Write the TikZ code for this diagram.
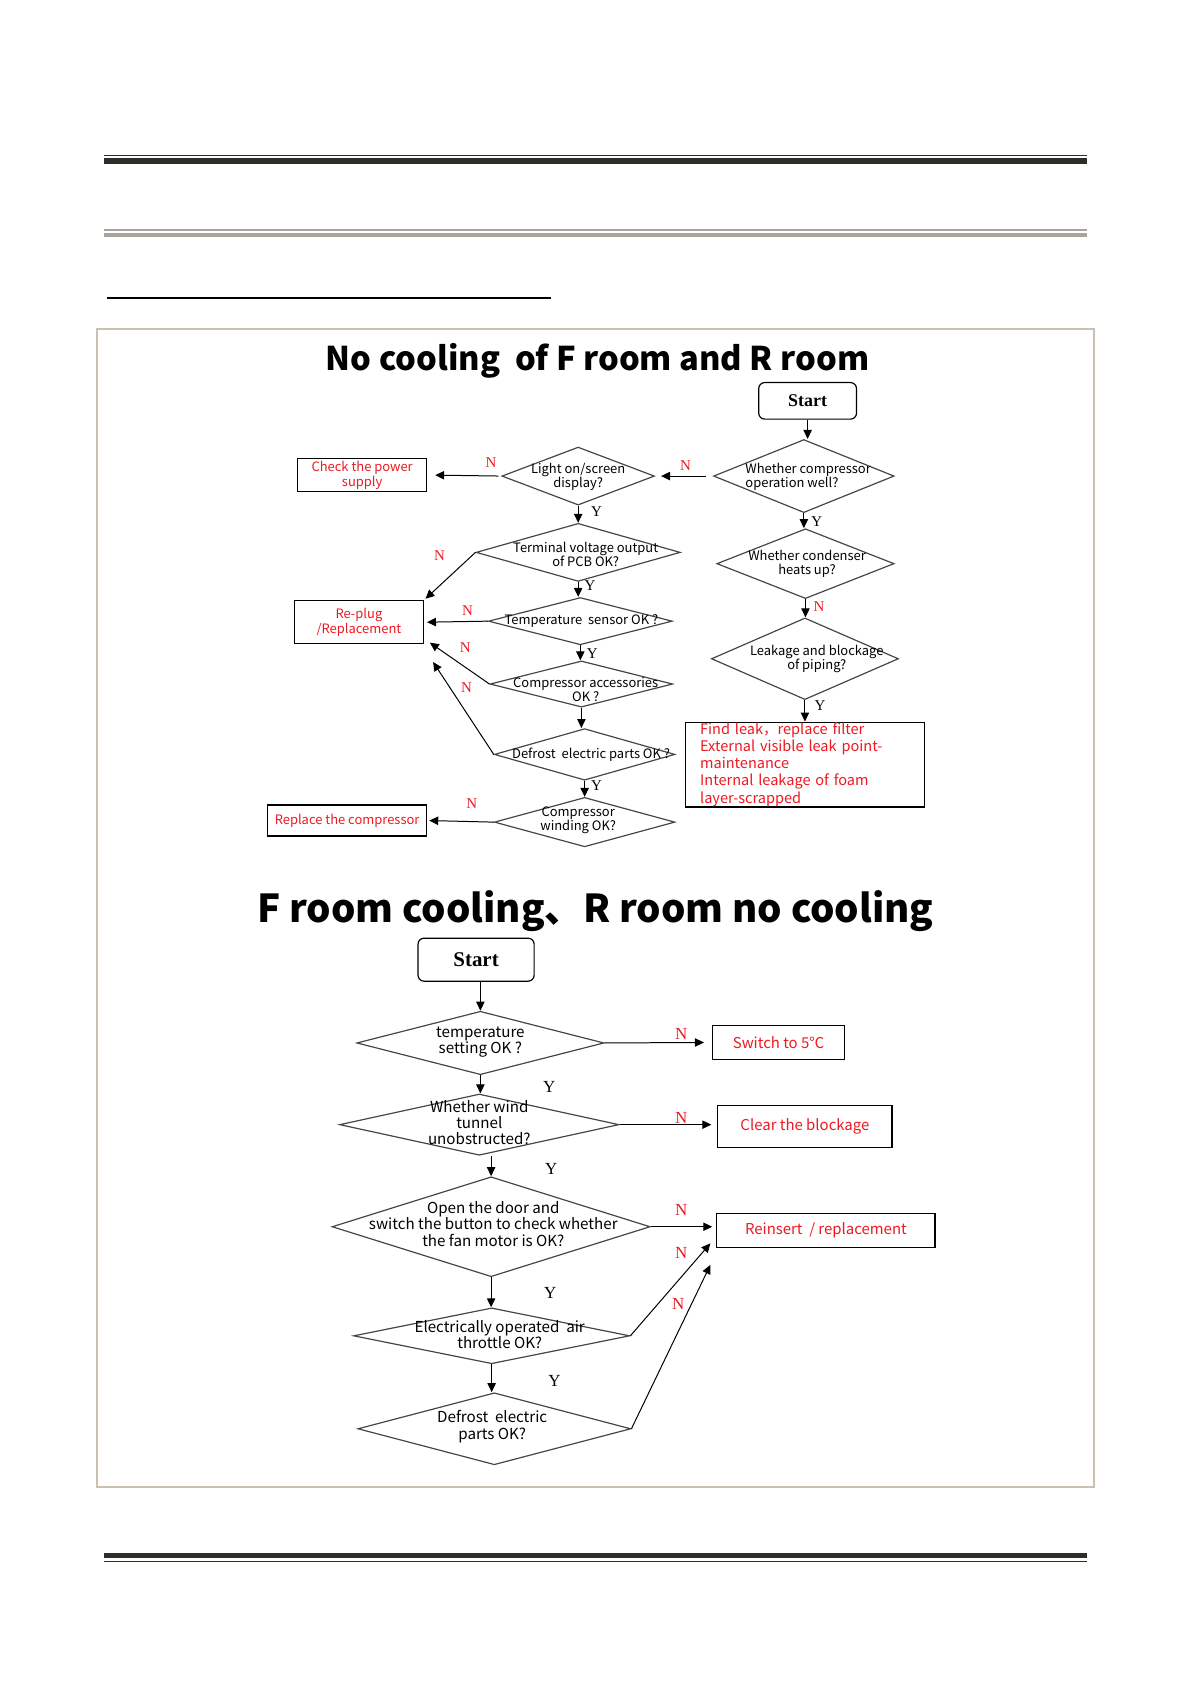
\documentclass[tikz,border=0pt]{standalone}
\usepackage{fontspec}
\setmainfont{Noto Sans CJK SC}
\newfontfamily\simfont{Liberation Serif}
\usepackage{tikz}
\usetikzlibrary{shapes.geometric, arrows.meta, positioning, calc}
\definecolor{redtxt}{RGB}{238,24,32}
\definecolor{framec}{RGB}{202,192,174}
\definecolor{rulegray}{RGB}{168,164,158}
\definecolor{ruledark}{RGB}{48,44,40}
\definecolor{dialine}{RGB}{70,70,70}
\newcommand{\ux}{0.018953cm}
\tikzset{
    sz/.style 2 args={minimum width=#1*\ux, minimum height=#2*\ux},
    dia/.style={diamond, draw=dialine, line width=0.6pt, inner sep=0pt},
    qtxt/.style={align=center, inner sep=0pt, font=\fontsize{6.5}{7}\selectfont},
    qtxtb/.style={align=center, inner sep=0pt, font=\fontsize{7.6}{8.1}\selectfont},
    rbox/.style={rectangle, draw, line width=0.6pt, inner sep=0pt, align=center, text=redtxt, font=\fontsize{6.5}{7.6}\selectfont},
    rboxb/.style={rbox, font=\fontsize{7.5}{8}\selectfont},
    startbox/.style={rectangle, rounded corners=3pt, draw, line width=0.6pt, font=\simfont\bfseries\fontsize{9}{9}\selectfont},
    arr/.style={-{Triangle[length=4.5pt,width=4.2pt]}, line width=0.5pt},
    nlab/.style={inner sep=0pt, text=redtxt, font=\simfont\fontsize{7.5}{7.5}\selectfont},
    ylab/.style={inner sep=0pt, font=\simfont\fontsize{7.5}{7.5}\selectfont},
    nlabb/.style={nlab, font=\simfont\fontsize{8.5}{8.5}\selectfont},
    ylabb/.style={ylab, font=\simfont\fontsize{8.5}{8.5}\selectfont},
    ttl/.style={inner sep=0pt, font=\bfseries\fontsize{16.4}{16.4}\selectfont}
}
\begin{document}
\lineskiplimit=-10pt
\lineskip=0pt
\begin{tikzpicture}[x=\ux, y=-\ux]
\useasboundingbox (0,0) rectangle (1108,1567);

% page rules
\draw[ruledark, line width=0.6pt] (97,144.5) -- (1011,144.5);
\draw[ruledark, line width=2.8pt] (97,150) -- (1011,150);
\draw[rulegray, line width=1pt] (97,214) -- (1011,214);
\draw[rulegray, line width=2pt] (97,218.5) -- (1011,218.5);
\draw[black, line width=1.1pt] (100,277) -- (513,277);
\draw[ruledark, line width=2.9pt] (97,1447.5) -- (1011,1447.5);
\draw[ruledark, line width=0.7pt] (97,1453) -- (1011,1453);
\draw[framec, line width=1.1pt] (90,306) rectangle (1018,1384);

% chart 1
\node[ttl] (t1) at (556,336) {No cooling \ of F room and R room};

\node[startbox, sz={91}{34}] (s1) at (751.5,373) {Start};
\node[dia, sz={168}{68}] (d1) at (748,443) {};
\node[qtxt, align=left] (d1t) at (752,443.5) {Whether compressor\\operation well?};
\node[dia, sz={142}{54}] (d2) at (538,443) {};
\node[qtxt] (d2t) at (538,443.5) {Light on/screen\\display?};
\node[rbox, sz={120}{30}] (cp) at (337,442) {Check the power\\supply};
\node[dia, sz={190}{54}] (d3) at (538,514) {};
\node[qtxt] (d3t) at (545,515.5) {Terminal voltage output\\of PCB OK?};
\node[dia, sz={171}{44}] (d4) at (540,578) {};
\node[qtxt] (d4t) at (541,578) {Temperature\ \ sensor OK ?};
\node[rbox, sz={120}{40}] (rp) at (334,579) {Re-plug\\/Replacement};
\node[dia, sz={170}{43}] (d5) at (541,636.5) {};
\node[qtxt] (d5t) at (545,642) {Compressor accessories\\OK ?};
\node[dia, sz={168}{48}] (d6) at (544,702) {};
\node[qtxt] (d6t) at (550,702) {Defrost\ \ electric parts OK ?};
\node[dia, sz={168}{46}] (d7) at (544,765) {};
\node[qtxt] (d7t) at (538,763.5) {Compressor\\winding OK?};
\node[rbox, sz={148}{29}] (rc) at (323,763.5) {Replace the compressor};
\node[dia, sz={165}{65}] (d8) at (749.5,524.5) {};
\node[qtxt] (d8t) at (751,524.5) {Whether condenser\\heats up?};
\node[dia, sz={174}{76}] (d9) at (749,613) {};
\node[qtxt] (d9t) at (760,613) {Leakage and blockage\\of piping?};
\node[rbox, sz={222}{79}, align=left, font=\fontsize{7.3}{8.6}\selectfont, text width=195*\ux] (fl) at (749,711.5)
    {Find leak，replace filter\\External visible leak point-\\maintenance\\Internal leakage of foam\\layer-scrapped};
\coordinate (rp5) at (400,598);
\coordinate (rp6) at (403,616);

\draw[arr] (s1.south) -- (s1.south |- d1.north);
\draw[arr, shorten <=3.5pt, shorten >=3pt] (d1.west) -- (d2.east);
\draw[arr, shorten <=1.5pt, shorten >=4pt] (d2.west) -- (cp.east);
\draw[arr] (d2.south) -- (d2.south |- d3.north);
\draw[arr, shorten >=1pt] (d3.west) -- (rp.north east);
\draw[arr] (d3.south) -- (d3.south |- d4.north);
\draw[arr, shorten >=1.5pt] (d4.west) -- (rp.east);
\draw[arr] (d4.south) -- (d4.south |- d5.north);
\draw[arr] (d5.west) -- (rp5);
\draw[arr] (d5.south) -- (d5.south |- d6.north);
\draw[arr] (d6.west) -- (rp6);
\draw[arr] (d6.south) -- (d6.south |- d7.north);
\draw[arr, shorten >=1pt] (d7.west) -- (rc.east);
\draw[arr] (d1.south) -- (d1.south |- d8.north);
\draw[arr] (d8.south) -- (d8.south |- d9.north);
\draw[arr] (d9.south) -- (d9.south |- fl.north);

\node[nlab] (n1) at (638,433) {N};
\node[nlab] (n2) at (457,430) {N};
\node[ylab] (y1) at (555,476) {Y};
\node[nlab] (n3) at (409,517) {N};
\node[ylab] (y2) at (549,545) {Y};
\node[nlab] (n4) at (435,568) {N};
\node[ylab] (y3) at (551,608) {Y};
\node[nlab] (n5) at (433,603) {N};
\node[nlab] (n6) at (434,640) {N};
\node[ylab] (y4) at (555,731) {Y};
\node[nlab] (n7) at (439,748) {N};
\node[ylab] (y5) at (760,485) {Y};
\node[nlab] (n8) at (762,564) {N};
\node[ylab] (y6) at (763,657) {Y};

% chart 2
\node[ttl, font=\bfseries\fontsize{19.3}{19.3}\selectfont] (t2) at (554,848) {F room cooling、R room no cooling};

\node[startbox, sz={108}{40}, font=\simfont\bfseries\fontsize{10.5}{10.5}\selectfont] (s2) at (443,893) {Start};
\node[dia, sz={230}{59}] (e1) at (447,970.5) {};
\node[qtxtb] (e1t) at (447,970) {temperature\\setting OK ?};
\node[rboxb, sz={123}{32}] (sw) at (724.5,970) {Switch to 5℃};
\node[dia, sz={260}{57}] (e2) at (446,1046.5) {};
\node[qtxtb] (e2t) at (446,1044.5) {Whether wind\\tunnel\\unobstructed?};
\node[rboxb, sz={162}{39}] (cb) at (749,1048.5) {Clear the blockage};
\node[dia, sz={296}{93}] (e3) at (457,1141.5) {};
\node[qtxtb] (e3t) at (459,1139) {Open the door and\\switch the button to check whether\\the fan motor is OK?};
\node[rboxb, sz={203}{32}] (ri) at (768.5,1145) {Reinsert\ \ / replacement};
\node[dia, sz={257}{52}] (e4) at (457.5,1243) {};
\node[qtxtb] (e4t) at (465,1241.5) {Electrically operated\ \ air\\throttle OK?};
\node[dia, sz={254}{67}] (e5) at (460,1329.5) {};
\node[qtxtb] (e5t) at (458,1327.5) {Defrost\ \ electric\\parts OK?};
\coordinate (ri4) at (661,1157);
\coordinate (ri5) at (661,1177);

\draw[arr] (s2.south -| e1.north) -- (e1.north);
\draw[arr, shorten >=4pt] (e1.east) -- (sw.west);
\draw[arr] (e1.south) -- (e1.south |- e2.north);
\draw[arr, shorten >=3pt] (e2.east) -- (e2.east -| cb.west);
\draw[arr] (e3.north |- e2.south) -- (e3.north);
\draw[arr, shorten >=2pt] (e3.east) -- (e3.east -| ri.west);
\draw[arr] (e3.south) -- (e3.south |- e4.north);
\draw[arr] (e4.east) -- (ri4);
\draw[arr] (e4.south) -- (e4.south |- e5.north);
\draw[arr] (e5.east) -- (ri5);

\node[nlabb] (m1) at (634,962) {N};
\node[ylabb] (z1) at (511,1011) {Y};
\node[nlabb] (m2) at (634,1040) {N};
\node[ylabb] (z2) at (513,1088) {Y};
\node[nlabb] (m3) at (634,1126) {N};
\node[ylabb] (z3) at (512,1203) {Y};
\node[nlabb] (m4) at (634,1166) {N};
\node[ylabb] (z4) at (516,1285) {Y};
\node[nlabb] (m5) at (631,1213) {N};
\end{tikzpicture}
\end{document}
